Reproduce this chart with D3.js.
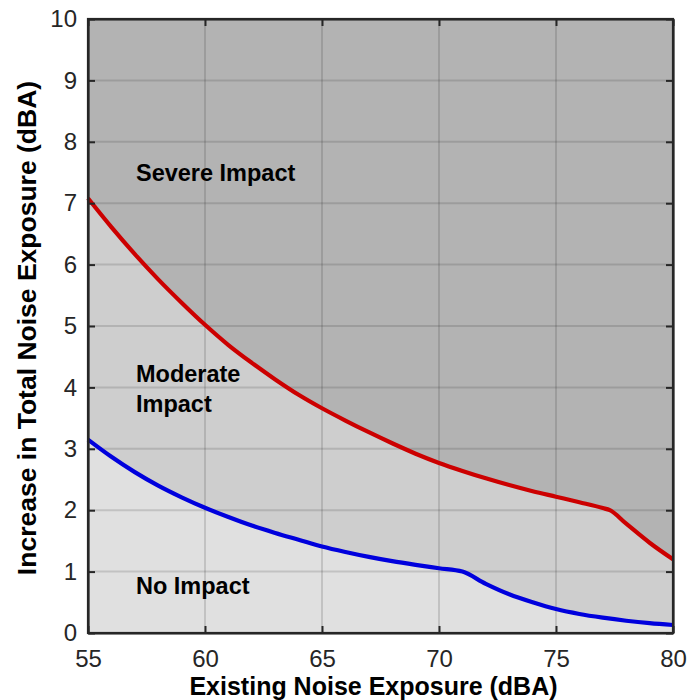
<!DOCTYPE html>
<html><head><meta charset="utf-8">
<script src="https://cdn.jsdelivr.net/npm/d3@7"></script>
<style>body{margin:0;background:#fff;} svg{display:block;font-family:"Liberation Sans",Arial,sans-serif;}</style>
</head><body>
<svg id="chart" width="689" height="700"></svg>
<script>
const severeX = [55,56,57,58,59,60,61,62,63,64,65,66,67,68,69,70,71,72,73,74,75,76,77,77.3,78,79,80];
const severeY = [7.08,6.61,6.17,5.76,5.38,5.02,4.69,4.40,4.13,3.88,3.66,3.46,3.27,3.09,2.92,2.77,2.64,2.52,2.41,2.31,2.22,2.13,2.035,2.00,1.78,1.47,1.20];
const moderateX = [55,56,57,58,59,60,61,62,63,64,65,66,67,68,69,70,71,72,73,74,75,76,77,78,79,80];
const moderateY = [3.15,2.87,2.62,2.40,2.21,2.04,1.89,1.75,1.63,1.52,1.41,1.32,1.24,1.17,1.11,1.055,1.00,0.80,0.63,0.50,0.39,0.31,0.25,0.20,0.16,0.13];
const xTicks = [55,60,65,70,75,80];
const yTicks = [0,1,2,3,4,5,6,7,8,9,10];
const regionLabels = [
  {lines:["Severe Impact"], x:57.05, y:7.36},
  {lines:["Moderate","Impact"], x:57.05, y:4.09},
  {lines:["No Impact"], x:57.05, y:0.64}
];

const svg = d3.select("#chart");
const m = {left:88, top:19, right:16, bottom:67};
const W = 689 - m.left - m.right, H = 700 - m.top - m.bottom;
const x = d3.scaleLinear().domain([55,80]).range([0,W]);
const y = d3.scaleLinear().domain([0,10]).range([H,0]);
const g = svg.append("g").attr("transform",`translate(${m.left},${m.top})`);

const red = severeX.map((v,i)=>[v,severeY[i]]);
const blue = moderateX.map((v,i)=>[v,moderateY[i]]);
const curve = d3.curveMonotoneX;

g.append("rect").attr("width",W).attr("height",H).attr("fill","#b3b3b3");
g.append("path").datum(red).attr("fill","#cecece")
  .attr("d",d3.area().x(d=>x(d[0])).y0(H).y1(d=>y(d[1])).curve(curve));
g.append("path").datum(blue).attr("fill","#e0e0e0")
  .attr("d",d3.area().x(d=>x(d[0])).y0(H).y1(d=>y(d[1])).curve(curve));

// grid
const gridCol = "rgba(38,38,38,0.16)";
g.selectAll(".gx").data(xTicks.slice(1,-1)).join("line")
  .attr("x1",d=>x(d)).attr("x2",d=>x(d)).attr("y1",0).attr("y2",H)
  .attr("stroke",gridCol).attr("stroke-width",2);
g.selectAll(".gy").data(yTicks.slice(1,-1)).join("line")
  .attr("y1",d=>y(d)).attr("y2",d=>y(d)).attr("x1",0).attr("x2",W)
  .attr("stroke",gridCol).attr("stroke-width",2);

// curves
const line = d3.line().x(d=>x(d[0])).y(d=>y(d[1])).curve(curve);
g.append("path").datum(red).attr("fill","none").attr("stroke","#cc0000").attr("stroke-width",4.2).attr("d",line);
g.append("path").datum(blue).attr("fill","none").attr("stroke","#0000dd").attr("stroke-width",4.2).attr("d",line);

// axes
const axCol = "#262626";
const xb = g.append("g").attr("transform",`translate(0,${H})`)
  .call(d3.axisBottom(x).tickValues(xTicks).tickSizeInner(-7).tickSizeOuter(0).tickPadding(17));
const xt = g.append("g").call(d3.axisTop(x).tickValues(xTicks).tickSizeInner(-7).tickSizeOuter(0).tickFormat(""));
const yl = g.append("g").call(d3.axisLeft(y).tickValues(yTicks).tickSizeInner(-7).tickSizeOuter(0).tickPadding(11));
const yr = g.append("g").attr("transform",`translate(${W},0)`)
  .call(d3.axisRight(y).tickValues(yTicks).tickSizeInner(-7).tickSizeOuter(0).tickFormat(""));
[xb,xt,yl,yr].forEach(a=>{
  a.select(".domain").attr("stroke",axCol).attr("stroke-width",2.2);
  a.selectAll(".tick line").attr("stroke",axCol).attr("stroke-width",2);
  a.selectAll(".tick text").attr("fill",axCol).attr("font-size",24).attr("font-family","Liberation Sans, Arial, sans-serif");
});
g.append("rect").attr("width",W).attr("height",H).attr("fill","none").attr("stroke",axCol).attr("stroke-width",2.2);

// region labels
regionLabels.forEach(l=>{
  const t = g.append("text").attr("x",x(l.x)).attr("y",y(l.y))
    .attr("font-weight","bold").attr("font-size",23.5).attr("fill","#000");
  l.lines.forEach((s,i)=>t.append("tspan").attr("x",x(l.x)).attr("dy",i?30:0).text(s));
});

// axis titles
svg.append("text").attr("x",m.left+W/2-7).attr("y",694.5).attr("text-anchor","middle")
  .attr("font-weight","bold").attr("font-size",25).attr("fill","#000").text("Existing Noise Exposure (dBA)");
svg.append("text").attr("transform",`translate(36,${m.top+H/2+2}) rotate(-90)`).attr("text-anchor","middle")
  .attr("font-weight","bold").attr("font-size",26.5).attr("fill","#000").text("Increase in Total Noise Exposure (dBA)");
</script>
</body></html>
